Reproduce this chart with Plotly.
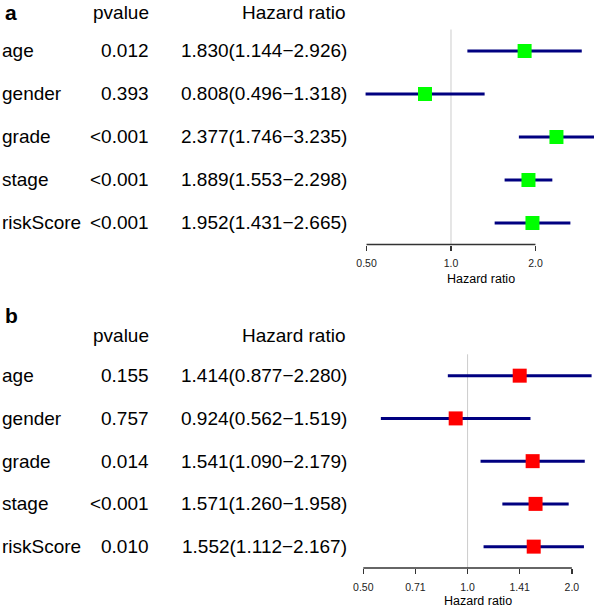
import math
import plotly.graph_objects as go

# ---------------- data ----------------
variables = ["age", "gender", "grade", "stage", "riskScore"]

a_pvalue = ["0.012", "0.393", "<0.001", "<0.001", "<0.001"]
a_hr = [1.830, 0.808, 2.377, 1.889, 1.952]
a_low = [1.144, 0.496, 1.746, 1.553, 1.431]
a_high = [2.926, 1.318, 3.235, 2.298, 2.665]

b_pvalue = ["0.155", "0.757", "0.014", "<0.001", "0.010"]
b_hr = [1.414, 0.924, 1.541, 1.571, 1.552]
b_low = [0.877, 0.562, 1.090, 1.260, 1.112]
b_high = [2.280, 1.519, 2.179, 1.958, 2.167]

a_tickvals = [0.5, 1.0, 2.0]
a_ticktext = ["0.50", "1.0", "2.0"]
b_tickvals = [0.5, 0.7071, 1.0, 1.4142, 2.0]
b_ticktext = ["0.50", "0.71", "1.0", "1.41", "2.0"]

# ---------------- layout geometry (pixels of the 598x607 window) ----------------
W, H = 598, 607
FONT = "Liberation Sans, Arial, sans-serif"


def px_x(p):
    return p / W


def px_y(p):
    return 1 - p / H


panels = [
    dict(name="a", xa="x", ya="y", pv=a_pvalue, hr=a_hr, lo=a_low, hi=a_high,
         tv=a_tickvals, tt=a_ticktext, color="#00FF00",
         p0=365.0, k=85.0 / math.log10(2), top=29.5, bot=244.5,
         letter_y=13, head_y=13, axt_y=279, rend=596),
    dict(name="b", xa="x2", ya="y2", pv=b_pvalue, hr=b_hr, lo=b_low, hi=b_high,
         tv=b_tickvals, tt=b_ticktext, color="#FF0000",
         p0=361.7, k=105.0 / math.log10(2), top=354.3, bot=568.0,
         letter_y=315, head_y=335, axt_y=601, rend=593),
]

X_LEFT, X_RIGHT = 355.0, 598.0

fig = go.Figure()
annotations = []
shapes = []

for i, P in enumerate(panels):
    # CI lines
    xs, ys = [], []
    for v, lo, hi in zip(variables, P["lo"], P["hi"]):
        xs += [lo, hi, None]
        ys += [v, v, None]
    fig.add_trace(go.Scatter(x=xs, y=ys, mode="lines", xaxis=P["xa"], yaxis=P["ya"],
                             line=dict(color="#000080", width=3), showlegend=False,
                             hoverinfo="skip"))
    fig.add_trace(go.Scatter(x=P["hr"], y=variables, mode="markers", xaxis=P["xa"], yaxis=P["ya"],
                             marker=dict(symbol="square", size=14, color=P["color"],
                                         line=dict(width=0)),
                             showlegend=False, cliponaxis=False))

    lv0 = math.log10(0.5)
    rng = [lv0 + (X_LEFT - P["p0"]) / P["k"], lv0 + (X_RIGHT - P["p0"]) / P["k"]]
    xkey = "xaxis" if i == 0 else "xaxis2"
    ykey = "yaxis" if i == 0 else "yaxis2"
    fig.update_layout(**{
        xkey: dict(type="log", range=rng, domain=[px_x(X_LEFT), 1],
                   anchor=P["ya"], showgrid=False, zeroline=False, showline=False,
                   tickvals=P["tv"], ticktext=P["tt"], ticks="outside", ticklen=5,
                   tickwidth=1.5, tickcolor="#333333",
                   tickfont=dict(family=FONT, size=10.5, color="#222222"),
                   ticklabelstandoff=4),
        ykey: dict(type="category", categoryarray=variables, range=[4.5, -0.5],
                   domain=[px_y(P["bot"]), px_y(P["top"])], anchor=P["xa"],
                   showgrid=False, zeroline=False, showline=False,
                   showticklabels=False, ticks=""),
    })

    ydom = "y domain" if i == 0 else "y2 domain"
    # reference line at 1
    shapes.append(dict(type="line", xref=P["xa"], yref=ydom, x0=1, x1=1, y0=0, y1=1,
                       line=dict(color="#CCCCCC", width=1), layer="below"))
    # axis line from first to last tick
    shapes.append(dict(type="line", xref=P["xa"], yref=ydom, x0=P["tv"][0], x1=P["tv"][-1],
                       y0=0, y1=0, line=dict(color="#333333", width=1.5)))

    # panel letter
    annotations.append(dict(text="<b>%s</b>" % P["name"], xref="paper", yref="paper",
                            x=px_x(-1), y=px_y(P["letter_y"]), xanchor="left", yanchor="middle",
                            showarrow=False, font=dict(family=FONT, size=21, color="black")))
    # headers
    annotations.append(dict(text="pvalue", xref="paper", yref="paper",
                            x=px_x(148), y=px_y(P["head_y"]), xanchor="right", yanchor="middle",
                            showarrow=False, font=dict(family=FONT, size=19, color="black")))
    annotations.append(dict(text="Hazard ratio", xref="paper", yref="paper",
                            x=px_x(346), y=px_y(P["head_y"]), xanchor="right", yanchor="middle",
                            showarrow=False, font=dict(family=FONT, size=19, color="black")))
    # rows
    for v, pv, hr, lo, hi in zip(variables, P["pv"], P["hr"], P["lo"], P["hi"]):
        annotations.append(dict(text=v, xref="paper", yref=P["ya"], x=px_x(-4), y=v,
                                xanchor="left", yanchor="middle", showarrow=False,
                                font=dict(family=FONT, size=19, color="black")))
        annotations.append(dict(text=pv, xref="paper", yref=P["ya"], x=px_x(148), y=v,
                                xanchor="right", yanchor="middle", showarrow=False,
                                font=dict(family=FONT, size=19, color="black")))
        annotations.append(dict(text="%.3f(%.3f\u2212%.3f)" % (hr, lo, hi), xref="paper",
                                yref=P["ya"], x=px_x(347), y=v,
                                xanchor="right", yanchor="middle", showarrow=False,
                                font=dict(family=FONT, size=19, color="black")))
    # axis title, centred on the plotting region
    annotations.append(dict(text="Hazard ratio", xref="paper", yref="paper",
                            x=px_x((P["p0"] + P["rend"]) / 2),
                            y=px_y(P["axt_y"]), xanchor="center", yanchor="middle",
                            showarrow=False, font=dict(family=FONT, size=12.5, color="black")))

fig.update_layout(width=W, height=H, autosize=False,
                  margin=dict(l=0, r=0, t=0, b=0),
                  paper_bgcolor="white", plot_bgcolor="white",
                  annotations=annotations, shapes=shapes)

fig.write_html("out.html",
               config={"displayModeBar": False, "staticPlot": True},
               post_script="document.body.style.margin='0px';document.body.style.overflow='hidden';")
